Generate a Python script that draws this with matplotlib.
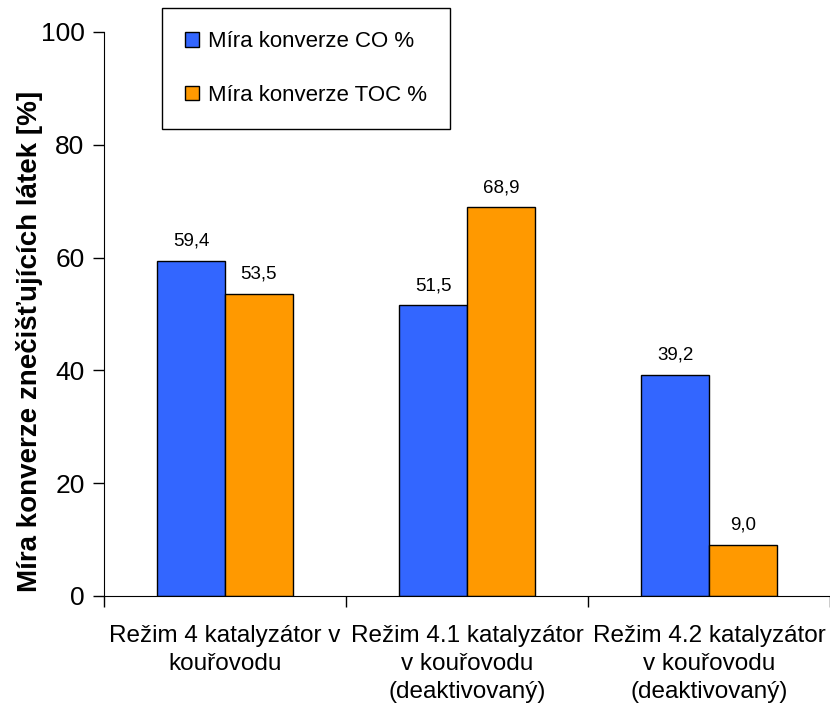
import matplotlib.pyplot as plt
import numpy as np

# Data
categories = ['Režim 4 katalyzátor v\nkouřovodu',
              'Režim 4.1 katalyzátor\nv kouřovodu\n(deaktivovaný)',
              'Režim 4.2 katalyzátor\nv kouřovodu\n(deaktivovaný)']
co_values = [59.4, 51.5, 39.2]
toc_values = [53.5, 68.9, 9.0]
series_names = ['Míra konverze CO %', 'Míra konverze TOC %']
y_ticks = [0, 20, 40, 60, 80, 100]

plt.rcParams['font.family'] = ['Liberation Sans', 'DejaVu Sans']

fig = plt.figure(figsize=(8.3, 7.14), dpi=100)
ax = fig.add_axes([0.1253, 0.1653, 0.875, 0.790])

x = np.arange(len(categories)) + 0.5
w = 0.28
b1 = ax.bar(x - w / 2, co_values, w, color='#3366FF', edgecolor='black',
            linewidth=1, label=series_names[0])
b2 = ax.bar(x + w / 2, toc_values, w, color='#FF9900', edgecolor='black',
            linewidth=1, label=series_names[1])

# value labels with decimal comma
for bars in (b1, b2):
    for rect in bars:
        h = rect.get_height()
        ax.text(rect.get_x() + rect.get_width() / 2, h + 2,
                f'{h:.1f}'.replace('.', ','), ha='center', va='bottom',
                fontsize=13.5)

ax.set_xlim(0, 3)
ax.set_ylim(0, 100)
ax.set_yticks(y_ticks)
ax.set_xticks([0, 1, 2, 3])
ax.set_xticklabels([])
ax.set_xticks(x, minor=True)
ax.set_xticklabels(categories, minor=True, fontsize=17.5, linespacing=1.35)
ax.tick_params(axis='x', which='minor', length=0, pad=21)
ax.tick_params(axis='x', which='major', direction='out', length=8, width=1)
ax.tick_params(axis='y', direction='out', length=8, width=1, labelsize=19, pad=6)

for s in ['top', 'right']:
    ax.spines[s].set_visible(False)

fig.text(30 / 830, 1 - 341 / 714, 'Míra konverze znečišťujících látek [%]',
         rotation=90, ha='center', va='center', fontsize=20,
         fontweight='bold')

leg = fig.legend(handles=[b1, b2], labels=series_names, loc='upper left',
                 bbox_to_anchor=(162 / 830, 1 - 8 / 714), frameon=True,
                 fancybox=False, edgecolor='black', framealpha=1,
                 handlelength=0.6, handleheight=0.6, handletextpad=0.4,
                 labelspacing=1.45, borderpad=1.05, borderaxespad=0,
                 prop={'size': 16})
leg.get_frame().set_linewidth(1)

fig.savefig('out.png', dpi=100)
